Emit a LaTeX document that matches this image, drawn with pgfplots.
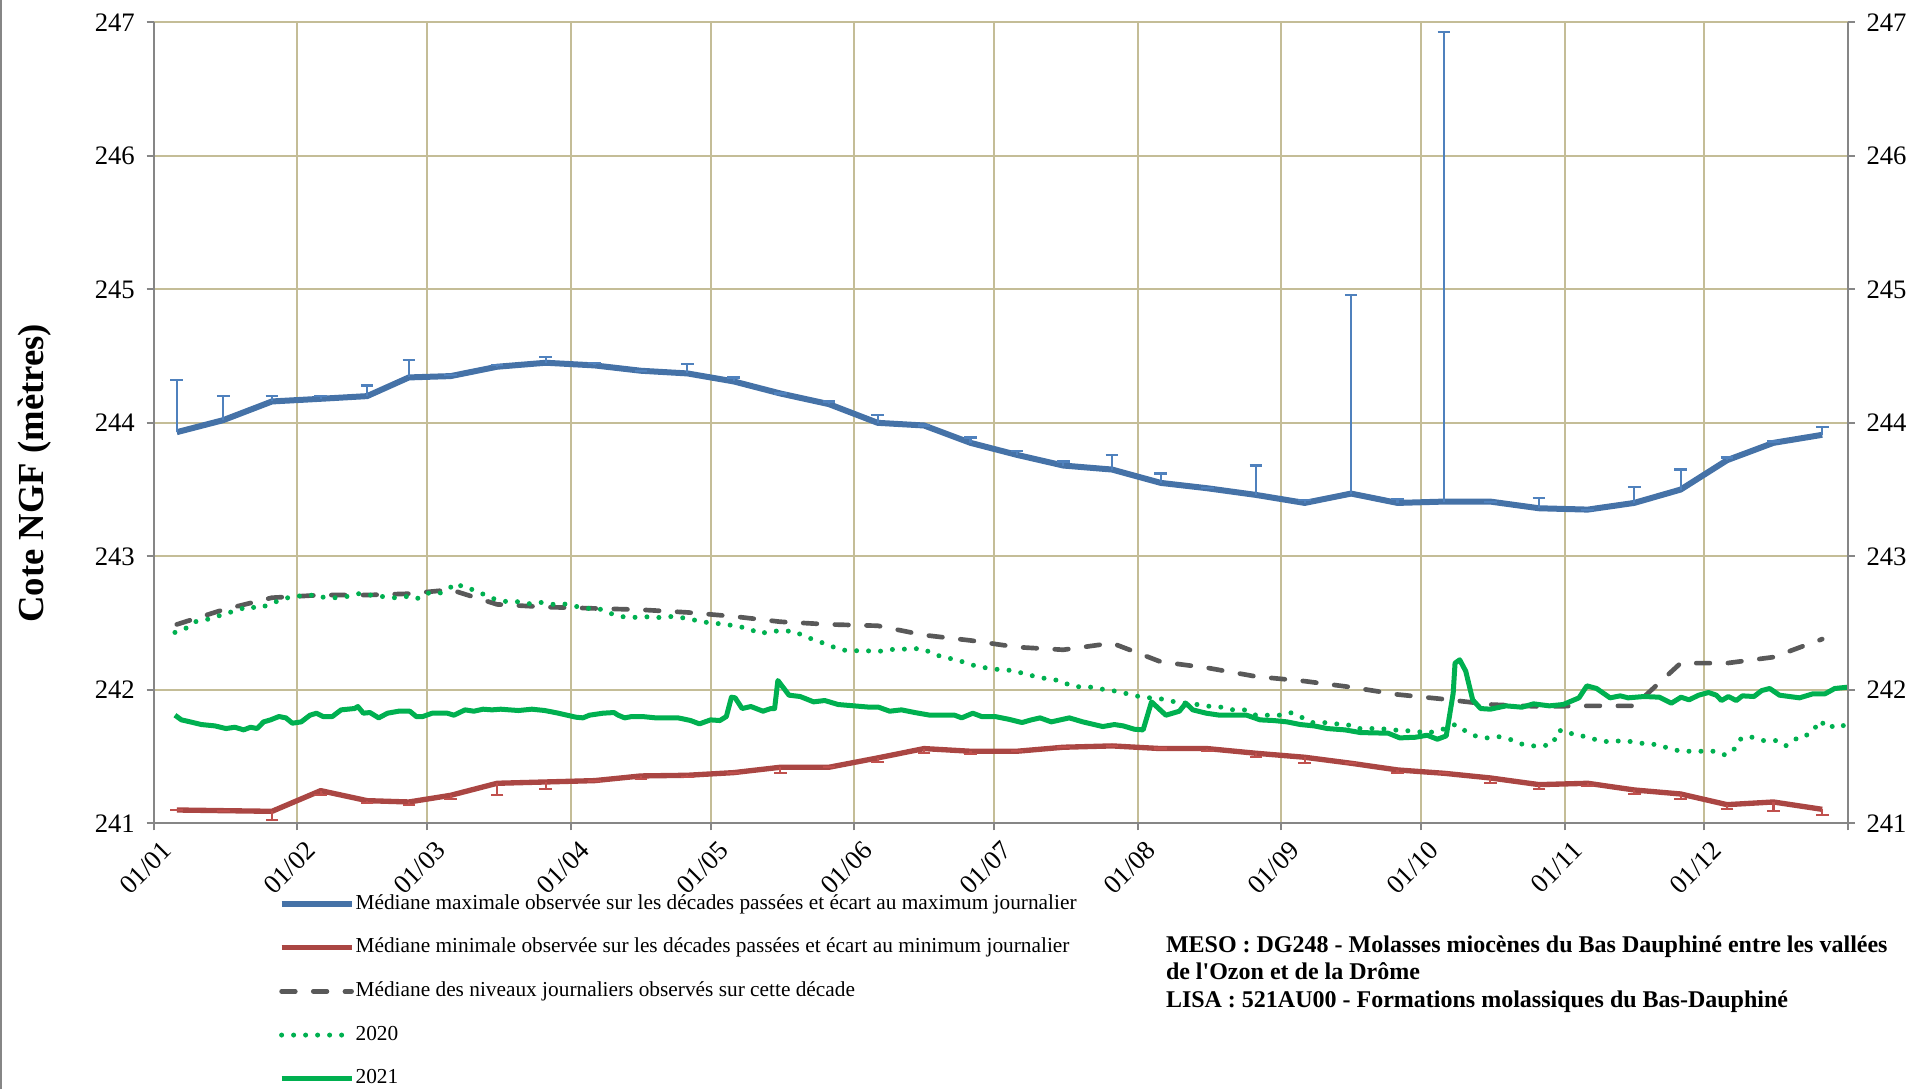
\documentclass[border=0pt]{standalone}
\usepackage{fontspec}
\setmainfont{Liberation Serif}
\usepackage{pgfplots}
\usepackage{pgfplotstable}
\pgfplotsset{compat=1.18}

\definecolor{maxblue}{RGB}{69,114,167}
\definecolor{errblue}{RGB}{79,129,189}
\definecolor{minred}{RGB}{170,70,67}
\definecolor{errred}{RGB}{192,80,77}
\definecolor{medgray}{RGB}{89,89,89}
\definecolor{yrgreen}{RGB}{0,176,80}
\definecolor{gridtan}{RGB}{196,189,151}
\definecolor{axisgray}{RGB}{134,134,134}

% decade values: max median (+ gap to daily max), min median (- gap to daily min), median
\pgfplotstableread{
d     max    emax  min     emin   med
5     243.93 0.39  241.100 0.000  242.49
15    244.02 0.18  241.095 0.000  242.60
25.5  244.16 0.04  241.090 0.065  242.69
36    244.18 0.02  241.245 0.035  242.71
46    244.20 0.08  241.170 0.020  242.71
55    244.34 0.13  241.160 0.020  242.72
64    244.35 0.01  241.210 0.030  242.75
74    244.42 0.01  241.300 0.090  242.64
84.5  244.45 0.04  241.310 0.050  242.62
95    244.43 0.02  241.320 0.000  242.61
105   244.39 0.00  241.355 0.020  242.60
115   244.37 0.07  241.360 0.015  242.58
125   244.31 0.03  241.380 0.000  242.55
135   244.22 0.00  241.420 0.045  242.51
145.5 244.14 0.02  241.420 0.000  242.49
156   244.00 0.06  241.490 0.030  242.48
166   243.98 0.00  241.560 0.030  242.41
176   243.85 0.04  241.540 0.020  242.37
186   243.76 0.03  241.540 0.000  242.32
196   243.68 0.03  241.570 0.000  242.30
206.5 243.65 0.11  241.580 0.000  242.35
217   243.55 0.07  241.560 0.000  242.21
227   243.51 0.00  241.560 0.020  242.165
237.5 243.46 0.22  241.525 0.025  242.10
248   243.40 0.02  241.495 0.040  242.065
258   243.47 1.49  241.450 0.000  242.02
268   243.40 0.03  241.400 0.025  241.965
278   243.41 3.52  241.375 0.000  241.93
288   243.41 0.00  241.340 0.040  241.89
298.5 243.36 0.08  241.290 0.030  241.875
309   243.35 0.00  241.300 0.020  241.88
319   243.40 0.12  241.250 0.030  241.88
329   243.50 0.15  241.220 0.035  242.20
339   243.72 0.02  241.140 0.035  242.20
349   243.85 0.01  241.160 0.070  242.245
359.5 243.91 0.06  241.105 0.040  242.38
}\decades

% 2020 daily levels
\pgfplotstableread{
d v
4.6 242.43
6.5 242.45
8.9 242.51
11.3 242.525
13.7 242.55
15.9 242.575
18.4 242.60
20.3 242.625
22.7 242.61
24.9 242.64
27.5 242.675
29.9 242.70
34.7 242.71
37 242.69
39.4 242.69
41.8 242.70
44.2 242.72
46.6 242.71
49 242.70
51.9 242.69
54.3 242.70
56.6 242.68
59 242.725
61.4 242.72
63.3 242.75
65.2 242.80
67.1 242.76
69 242.75
71.4 242.71
73.8 242.675
76.2 242.66
78.6 242.66
81 242.645
83.4 242.655
85.8 242.64
88.2 242.645
91 242.625
93.4 242.61
95.8 242.61
98.2 242.575
100.6 242.55
103 242.54
105.3 242.55
108.4 242.54
110.8 242.55
113 242.545
115.7 242.53
118 242.51
120.5 242.50
123.4 242.49
125.8 242.475
128.2 242.46
130.6 242.42
133 242.44
135.5 242.44
137.9 242.44
140.3 242.40
142.7 242.37
145.1 242.34
147.6 242.305
150 242.29
152.4 242.295
154.8 242.29
157.2 242.29
159.6 242.305
162.5 242.305
165.4 242.31
167.8 242.275
170.3 242.24
172.7 242.23
175.1 242.20
177.5 242.175
180.2 242.16
182.6 242.15
185.2 242.145
187.6 242.12
190 242.10
192.8 242.08
195.2 242.07
197.7 242.03
200.1 242.02
202.6 242.02
205 242.00
207.4 241.99
212.3 241.95
214.7 241.94
217.6 241.93
220 241.91
222.4 241.90
224.9 241.89
227.8 241.875
230.2 241.87
232.6 241.85
235 241.85
237.5 241.81
239.9 241.81
242.5 241.81
244.9 241.83
247.3 241.795
249.7 241.755
252.1 241.755
254.8 241.745
257.2 241.74
259.2 241.71
261.7 241.71
264.3 241.71
266.8 241.70
269.4 241.695
271.9 241.69
274.4 241.675
278.3 241.71
280.4 241.74
282.5 241.695
284.8 241.655
287.3 241.64
289.7 241.65
292.2 241.63
294.6 241.595
297.2 241.58
299.5 241.58
301.6 241.60
302.4 241.69
303.9 241.70
306.2 241.66
308.7 241.65
311.3 241.62
313.8 241.61
316.4 241.62
318.9 241.61
321.5 241.595
324 241.59
326.6 241.56
329.1 241.54
331.7 241.54
334.2 241.54
336.7 241.54
338.7 241.51
340.7 241.56
342.1 241.64
344.4 241.645
346.9 241.62
349.5 241.62
351.6 241.58
353.1 241.61
354.3 241.645
355.4 241.645
357.5 241.69
359 241.77
360.9 241.71
362.6 241.745
364.3 241.73
365 241.805
}\yearA

% 2021 daily levels
\pgfplotstableread{
d v
4.6 241.81
6 241.775
7.9 241.76
10.3 241.74
13.2 241.73
15.6 241.71
17.5 241.72
19.4 241.70
20.9 241.72
22.3 241.71
23.7 241.76
25.2 241.775
27 241.80
28.5 241.79
29.9 241.75
31.8 241.76
33.7 241.81
35.1 241.825
36.5 241.80
38.5 241.80
40.4 241.85
43.3 241.86
44 241.875
45.2 241.825
46.6 241.83
48.5 241.79
50.4 241.825
52.8 241.84
55.2 241.84
56.6 241.80
58 241.80
60 241.825
61.9 241.825
63.3 241.825
64.7 241.81
67.1 241.85
69 241.84
71 241.855
72.9 241.85
74.8 241.855
76.7 241.85
78.6 241.845
81.5 241.855
84.3 241.845
87.2 241.825
89.1 241.81
91 241.795
92.5 241.79
93.9 241.81
96.8 241.825
99.2 241.83
100.1 241.81
101.5 241.79
103 241.80
105.3 241.80
108.2 241.79
111.1 241.79
113 241.79
114.4 241.78
115.7 241.77
117.6 241.745
120 241.775
122 241.77
123.4 241.80
124.5 241.945
125.3 241.94
126.8 241.86
128.7 241.875
131.3 241.84
133 241.86
133.8 241.86
134.5 242.07
136.9 241.96
139.3 241.95
142.2 241.91
144.6 241.92
147.5 241.89
150.9 241.88
154.3 241.87
156.2 241.87
158.6 241.84
161.1 241.85
164 241.83
167.3 241.81
172.6 241.81
174.1 241.79
176.5 241.825
178.4 241.80
181.3 241.80
184.2 241.78
187.1 241.755
189.1 241.775
191 241.79
193.4 241.76
197.3 241.79
200.2 241.76
204.5 241.725
207 241.74
208.9 241.73
211.3 241.705
213.2 241.70
215 241.91
218.1 241.81
221 241.84
222.4 241.90
223.9 241.85
226.8 241.825
229.7 241.81
232.6 241.81
235.5 241.81
238.4 241.775
241.3 241.77
244.2 241.76
247.1 241.74
250 241.73
252.9 241.71
256.7 241.70
260 241.68
266 241.675
268.5 241.64
271.9 241.645
274.4 241.66
276.6 241.63
278.5 241.655
280 241.975
280.4 242.20
281.4 242.225
282.7 242.14
284.2 241.925
285.9 241.86
288 241.855
291.4 241.88
294.8 241.87
297.3 241.895
300.7 241.88
303.7 241.89
307.1 241.94
308.8 242.03
310.9 242.01
313.8 241.94
316 241.955
317.7 241.94
321.1 241.95
324.4 241.945
327 241.90
329.1 241.945
330.8 241.925
332.9 241.96
335 241.98
336.7 241.96
337.8 241.92
339.3 241.95
341 241.92
342.3 241.955
344.8 241.95
346.5 241.995
348.2 242.01
350.3 241.96
354.6 241.94
357.5 241.97
360.1 241.97
362.2 242.01
365 242.02
}\yearB

\pgfplotsset{
  frame/.style={
    scale only axis, width=508.2pt, height=240.3pt,
    xmin=0, xmax=365, ymin=241, ymax=247,
    ytick={241,242,...,247},
    tick align=outside, major tick length=2.1pt,
    axis line style={draw=axisgray, line width=0.6pt},
    tick style={draw=axisgray, line width=0.6pt},
    /pgf/number format/assume math mode=true,
    yticklabel style={font=\fontsize{8}{9.6}\selectfont},
  }
}

\begin{document}
\begin{tikzpicture}
\begin{axis}[
  frame,
  axis x line*=bottom, axis y line*=left,
  xtick={0,31,59,90,120,151,181,212,243,273,304,334,365},
  xticklabels={01/01,01/02,01/03,01/04,01/05,01/06,01/07,01/08,01/09,01/10,01/11,01/12,{}},
  xticklabel style={font=\fontsize{8}{9.6}\selectfont, xshift=2.1pt, yshift=-1.2pt,
    rotate=45, anchor=north east, inner sep=1pt},
  yticklabel style={anchor=east},
  grid=major, grid style={draw=gridtan, line width=0.6pt},
  ylabel={Cote NGF (mètres)},
  ylabel style={font=\bfseries\fontsize{11}{13}\selectfont, at={(axis description cs:-0.0704,0.437)}, anchor=center},
  legend cell align=left,
  legend style={at={(0.0734,-0.0868)}, anchor=north west, draw=none, fill=none,
    inner sep=0pt, row sep=6.8pt, column sep=0pt,
    font=\fontsize{6.4}{7.2}\selectfont,
    nodes={inner sep=0.3pt, text height=4.4pt, text depth=1.3pt}},
  legend image code/.code={\draw[#1] (0pt,0pt) -- (21pt,0pt);},
]
\addplot[maxblue, line width=1.8pt, line join=round,
  error bars/.cd, y dir=plus, y explicit,
  error bar style={draw=errblue, line width=0.65pt},
  error mark options={rotate=90, draw=errblue, line width=0.65pt, mark size=1.9pt}]
  table[x=d, y=max, y error=emax] {\decades};
\addlegendentry{Médiane maximale observée sur les décades passées et écart au maximum journalier}
\addplot[minred, line width=1.6pt, line join=round,
  error bars/.cd, y dir=minus, y explicit,
  error bar style={draw=errred, line width=0.65pt},
  error mark options={rotate=90, draw=errred, line width=0.65pt, mark size=1.9pt}]
  table[x=d, y=min, y error=emin] {\decades};
\addlegendentry{Médiane minimale observée sur les décades passées et écart au minimum journalier}
\addplot[medgray, line width=1.4pt, line cap=round, dash pattern=on 4.1pt off 5.4pt]
  table[x=d, y=med] {\decades};
\addlegendentry{Médiane des niveaux journaliers observés sur cette décade}
\addplot[yrgreen, line width=1.5pt, line cap=round, dash pattern=on 0pt off 3.6pt]
  table[x=d, y=v] {\yearA};
\addlegendentry{2020}
\addplot[yrgreen, line width=1.5pt, line join=round]
  table[x=d, y=v] {\yearB};
\addlegendentry{2021}
\coordinate (ll) at (rel axis cs:0,0);
\coordinate (ur) at (rel axis cs:1,1);
\end{axis}
\begin{axis}[
  frame,
  axis x line=none, axis y line*=right,
  yticklabel style={anchor=west},
]
\end{axis}
\node[anchor=north west, align=left, inner sep=0pt,
  font=\bfseries\fontsize{7.2}{8.2}\selectfont] at ([xshift=303.5pt,yshift=-33.5pt]ll)
  {MESO : DG248 - Molasses miocènes du Bas Dauphiné entre les vallées\\
   de l\textquotesingle Ozon et de la Drôme\\
   LISA : 521AU00 - Formations molassiques du Bas-Dauphiné};
\pgfresetboundingbox
\path[use as bounding box] ([xshift=-46.08pt,yshift=-79.71pt]ll) rectangle ([xshift=18.99pt,yshift=6.69pt]ur);
\draw[axisgray, line width=0.5pt] ([xshift=-45.8pt,yshift=-79.71pt]ll) -- ([xshift=-45.8pt,yshift=6.69pt]ll |- ur);
\end{tikzpicture}
\end{document}
